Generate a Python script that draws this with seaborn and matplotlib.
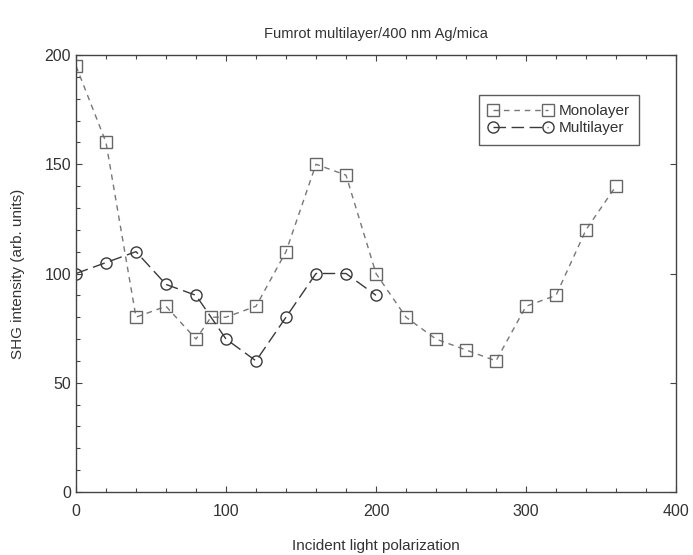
import matplotlib
matplotlib.use("Agg")
import matplotlib.pyplot as plt
import seaborn as sns
import pandas as pd
from matplotlib.ticker import MultipleLocator

# Polarization angle (deg) and SHG intensity for each sample
mono_angle = [0, 20, 40, 60, 80, 90, 100, 120, 140, 160, 180, 200, 220, 240, 260, 280, 300, 320, 340, 360]
mono_shg = [195, 160, 80, 85, 70, 80, 80, 85, 110, 150, 145, 100, 80, 70, 65, 60, 85, 90, 120, 140]
multi_angle = [0, 20, 40, 60, 80, 100, 120, 140, 160, 180, 200]
multi_shg = [100, 105, 110, 95, 90, 70, 60, 80, 100, 100, 90]

title = "Fumrot multilayer/400 nm Ag/mica"
xlabel = "Incident light polarization"
ylabel = "SHG intensity (arb. units)"

sns.set_style("ticks")
plt.rcParams["font.family"] = ["Liberation Sans", "DejaVu Sans"]
txt = "#333333"
plt.rcParams["text.color"] = txt
plt.rcParams["axes.labelcolor"] = txt
plt.rcParams["xtick.color"] = "#444444"
plt.rcParams["ytick.color"] = "#444444"
plt.rcParams["xtick.labelcolor"] = txt
plt.rcParams["ytick.labelcolor"] = txt

fig = plt.figure(figsize=(6.93, 5.55), dpi=100)
ax = fig.add_axes([76 / 693, 63 / 555, 600 / 693, 437 / 555])

mono = pd.DataFrame({"angle": mono_angle, "shg": mono_shg})
multi = pd.DataFrame({"angle": multi_angle, "shg": multi_shg})

sns.lineplot(data=mono, x="angle", y="shg", ax=ax, color="#777777", lw=1.0,
             linestyle=(0, (4, 3.5)), marker="s", markersize=8,
             markerfacecolor="none", markeredgecolor="#666666", markeredgewidth=1.0,
             label="Monolayer")
sns.lineplot(data=multi, x="angle", y="shg", ax=ax, color="#3a3a3a", lw=1.0,
             linestyle=(0, (9, 4)), marker="o", markersize=8,
             markerfacecolor="none", markeredgecolor="#3a3a3a", markeredgewidth=1.0,
             label="Multilayer")

ax.set_xlim(0, 400)
ax.set_ylim(0, 200)
ax.xaxis.set_major_locator(MultipleLocator(100))
ax.xaxis.set_minor_locator(MultipleLocator(20))
ax.yaxis.set_major_locator(MultipleLocator(50))
ax.yaxis.set_minor_locator(MultipleLocator(10))
ax.tick_params(which="both", direction="in", top=True, right=True,
               labelsize=11.5, width=0.8)
ax.tick_params(which="major", length=4)
ax.tick_params(which="minor", length=3)
ax.tick_params(axis="x", which="major", pad=8.5)
ax.tick_params(axis="y", which="major", pad=3.6, right=True)
ax.tick_params(axis="y", which="minor", right=False)

for s in ax.spines.values():
    s.set_visible(True)
    s.set_color("#444444")
    s.set_linewidth(1.0)

ax.set_xlabel(xlabel, fontsize=11)
ax.set_ylabel(ylabel, fontsize=11)
ax.xaxis.label.set_verticalalignment("center")
ax.xaxis.set_label_coords(0.5, (492 - 546) / 437)
ax.yaxis.set_label_coords(-0.085, 0.5)
ax.set_title(title, fontsize=10.5, pad=12)

leg = ax.legend(loc="upper left", bbox_to_anchor=(0.672, 0.908), numpoints=2,
                handlelength=4.2, fontsize=11, frameon=True, fancybox=False,
                borderpad=0.6, labelspacing=0.2, handletextpad=0.4, borderaxespad=0)
leg.get_frame().set_edgecolor("#333333")
leg.get_frame().set_linewidth(1.0)

fig.savefig("out.png", dpi=100)
